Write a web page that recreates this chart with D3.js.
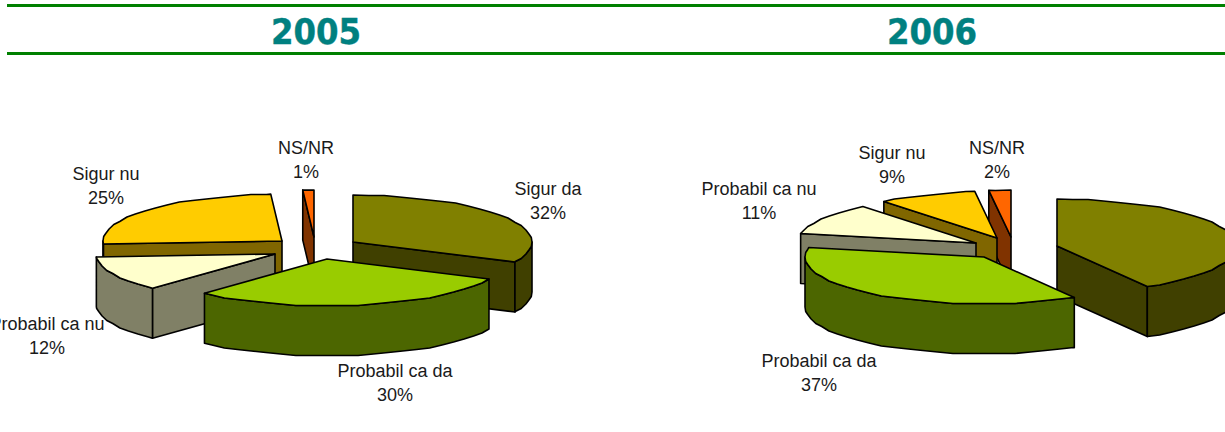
<!DOCTYPE html>
<html>
<head>
<meta charset="utf-8">
<script src="https://cdn.jsdelivr.net/npm/d3@7"></script>
<style>
  html, body { margin: 0; padding: 0; background: #fff; overflow: hidden; }
  svg { display: block; }
</style>
</head>
<body>
<script>
var width = 1225, height = 432;

// answers, in pie order (clockwise from 12 o'clock)
var categories = ["Sigur da", "Probabil ca da", "Probabil ca nu", "Sigur nu", "NS/NR"];
var years = ["2005", "2006"];
var values2005 = [32, 30, 12, 25, 1];
var values2006 = [42, 37, 11, 9, 2];

var topColors = ["#808000", "#99cc00", "#ffffcc", "#ffcc00", "#ff6600"];
var wallColors = ["#404000", "#4c6600", "#808066", "#806600", "#803300"];

// back to front
var drawOrder = [0, 4, 3, 2, 1];

// layout of each pie: centre, per-slice pull-out, label centres (null = outside the picture)
var layouts = [
  {
    cx: 323, cy: 249, titleX: 316,
    pull: [[30, -7], [4, 10], [-48, 5], [-41, -8], [-9, -12]],
    labels: [[548, 189], [395, 371], [47, 324], [106, 174], [306, 148]]
  },
  {
    cx: 1000, cy: 248, titleX: 932,
    pull: [[57, -2], [-16, 9], [-24, -5], [-3, -10], [11, -11]],
    labels: [null, [819, 361], [759, 189], [892, 153], [997, 148]]
  }
];

var depth = 50;
var rimStep = Math.PI / 36;
var rimGrid = 1.5;

var x = d3.scaleLinear().domain([-1, 1]).range([-179, 179]);
var y = d3.scaleLinear().domain([-1, 1]).range([-47, 47]);

var svg = d3.select("body").append("svg")
  .attr("width", width)
  .attr("height", height);

// header bars
svg.selectAll("rect.bar")
  .data([4, 52])
  .enter()
  .append("rect")
  .attr("class", "bar")
  .attr("x", 7)
  .attr("y", d => d)
  .attr("width", width - 7)
  .attr("height", 3)
  .attr("fill", "#008000");

var pie = d3.pie().sort(null).value(d => d);
var line = d3.line().x(d => d[0]).y(d => d[1]);
var polygon = pts => line(pts) + "Z";

// sampled on a fixed angle grid so top face and wall share their points;
// the rim steps a little, like the coarse ellipse of the original
function rimPoints(a0, a1) {
  var inner = d3.range(Math.floor(a0 / rimStep) + 1, Math.ceil(a1 / rimStep)).map(k => {
    var a = k * rimStep;
    return [x(Math.sin(a)), Math.round(y(-Math.cos(a)) / rimGrid) * rimGrid];
  });
  var end = a => [x(Math.sin(a)), y(-Math.cos(a))];
  return [end(a0)].concat(inner, [end(a1)]);
}

function drop(pts) {
  return pts.map(p => [p[0], p[1] + depth]);
}

function drawPie(values, layout, year) {
  svg.append("text")
    .attr("x", layout.titleX)
    .attr("y", 44)
    .attr("text-anchor", "middle")
    .attr("font-family", "'DejaVu Sans'")
    .attr("font-stretch", "condensed")
    .attr("font-weight", "bold")
    .attr("font-size", 36)
    .attr("fill", "#008080")
    .attr("stroke", "#008080")
    .attr("stroke-width", 0.4)
    .text(year);

  var arcs = pie(values);

  drawOrder.forEach(i => {
    var a0 = arcs[i].startAngle, a1 = arcs[i].endAngle;
    var g = svg.append("g")
      .attr("transform", "translate(" + (layout.cx + layout.pull[i][0]) + "," + (layout.cy + layout.pull[i][1]) + ")")
      .attr("stroke", "#000")
      .attr("stroke-width", 1.6)
      .attr("stroke-linejoin", "round");

    var rim = rimPoints(a0, a1);
    var apex = [0, 0];

    // flat cut faces, only when they look towards us
    var faces = [];
    if (Math.sin(a0) < 0) faces.push(rim[0]);
    if (Math.sin(a1) > 0) faces.push(rim[rim.length - 1]);
    faces.forEach(p => {
      g.append("path")
        .attr("d", polygon([apex, p, [p[0], p[1] + depth], [0, depth]]))
        .attr("fill", wallColors[i]);
    });

    // outer wall, front half only
    var w0 = Math.max(a0, Math.PI / 2), w1 = Math.min(a1, Math.PI * 1.5);
    if (w1 > w0) {
      var wall = rimPoints(w0, w1);
      g.append("path")
        .attr("d", polygon(wall.concat(drop(wall).reverse())))
        .attr("fill", wallColors[i]);
    }

    g.append("path")
      .attr("d", polygon([apex].concat(rim)))
      .attr("fill", topColors[i]);
  });

  // labels go on top
  categories.forEach((name, i) => {
    if (!layout.labels[i]) return;
    var t = svg.append("text")
      .attr("text-anchor", "middle")
      .attr("font-family", "'Liberation Sans'")
      .attr("font-size", 18)
      .attr("fill", "#1a1a1a");
    t.append("tspan")
      .attr("x", layout.labels[i][0])
      .attr("y", layout.labels[i][1] + 6)
      .text(name);
    t.append("tspan")
      .attr("x", layout.labels[i][0])
      .attr("y", layout.labels[i][1] + 30)
      .text(values[i] + "%");
  });
}

drawPie(values2005, layouts[0], years[0]);
drawPie(values2006, layouts[1], years[1]);
</script>
</body>
</html>
